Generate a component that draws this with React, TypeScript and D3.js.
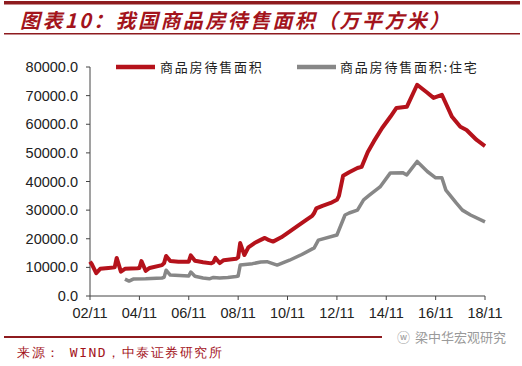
import React from "react";
import * as d3 from "d3";

const titleText = "图表10：我国商品房待售面积（万平方米）";
const sourceText = "来源： WIND，中泰证券研究所";
const watermark = "梁中华宏观研究";
const seriesNames = ["商品房待售面积", "商品房待售面积:住宅"];
const yTicks = [0, 10000, 20000, 30000, 40000, 50000, 60000, 70000, 80000];
const xTickLabels = ["2002-11", "2004-11", "2006-11", "2008-11", "2010-11", "2012-11", "2014-11", "2016-11", "2018-11"];

const totalDates = [
  "2002-11", "2002-12", "2003-02", "2003-04", "2003-08", "2003-11", "2003-12", "2004-02", "2004-04", "2004-10",
  "2004-11", "2004-12", "2005-02", "2005-04", "2005-10", "2005-11", "2005-12", "2006-02", "2006-06", "2006-11",
  "2006-12", "2007-02", "2007-06", "2007-10", "2007-11", "2007-12", "2008-02", "2008-04", "2008-10", "2008-11",
  "2008-12", "2009-02", "2009-04", "2009-07", "2009-10", "2009-12", "2010-02", "2010-04", "2010-08", "2010-12",
  "2011-04", "2011-08", "2011-11", "2011-12", "2012-01", "2012-04", "2012-08", "2012-11", "2012-12", "2013-02",
  "2013-05", "2013-09", "2013-11", "2014-02", "2014-05", "2014-09", "2015-01", "2015-04", "2015-09", "2016-02",
  "2016-07", "2016-10", "2017-02", "2017-07", "2017-11", "2018-02", "2018-07", "2018-11",
];
const totalValues = [
  12000, 11000, 8000, 9500, 9800, 10000, 13300, 8500, 9500, 9700,
  9800, 12200, 8800, 9800, 10800, 11500, 14000, 12200, 12000, 12000,
  14200, 12300, 11800, 11400, 11800, 13300, 11500, 12500, 13000, 13500,
  18500, 14300, 17000, 18500, 19600, 20300, 19500, 19000, 20500, 22500,
  24500, 26500, 28000, 29000, 30600, 31500, 32500, 33600, 35000, 42000,
  43200, 44700, 45100, 50300, 54000, 58700, 62600, 65700, 66100, 73800,
  71000, 69200, 70300, 62600, 59100, 58000, 54500, 52400,
];

const resDates = [
  "2004-04", "2004-06", "2004-08", "2005-02", "2005-10", "2005-11", "2005-12", "2006-02", "2006-11", "2006-12",
  "2007-02", "2007-06", "2007-09", "2007-11", "2008-02", "2008-06", "2008-10", "2008-11", "2008-12", "2009-06",
  "2009-10", "2010-01", "2010-06", "2010-12", "2011-06", "2011-12", "2012-02", "2012-11", "2013-03", "2013-05",
  "2013-09", "2013-12", "2014-03", "2014-08", "2015-01", "2015-07", "2015-09", "2016-02", "2016-07", "2016-11",
  "2017-02", "2017-04", "2017-09", "2017-12", "2018-04", "2018-11",
];
const resValues = [
  5900, 5200, 5900, 6000, 6300, 6500, 9000, 7300, 7000, 8400,
  6900, 6300, 6000, 6500, 6300, 6500, 6800, 7000, 10800, 11300,
  11900, 12000, 10800, 12500, 14500, 16800, 19500, 21300, 28300, 29000,
  30000, 33600, 35300, 38100, 43000, 43100, 42300, 47000, 43500, 41300,
  41300, 37000, 32500, 30000, 28300, 25900,
];

const parse = d3.timeParse("%Y-%m");
const fmtX = d3.timeFormat("%y/%m");

export default function App() {
  const W = 522, H = 366;
  const x = d3.scaleTime().domain([parse("2002-11")!, parse("2018-11")!]).range([90, 485]);
  const y = d3.scaleLinear().domain([0, 80000]).range([296, 67]);
  const line = d3.line<[Date, number]>().x(d => x(d[0])).y(d => y(d[1]));
  const totalPts = totalDates.map((d, i) => [parse(d)!, totalValues[i]] as [Date, number]);
  const resPts = resDates.map((d, i) => [parse(d)!, resValues[i]] as [Date, number]);
  const red = "#B5121B";
  const dark = "#A3141C";
  const axisFont = "'Liberation Sans', Arial, sans-serif";
  const cjk = "'Noto Sans CJK SC', sans-serif";
  return (
    <svg width={W} height={H} style={{ position: "absolute", left: 0, top: 0, background: "#fff" }}>
      <rect x={0} y={0} width={W} height={H} fill="#fff" />
      <rect x={4} y={1} width={516} height={3.5} fill="#8E1B1F" />
      <text x={20} y={28} fill={dark} fontFamily={cjk} fontSize={20} fontWeight="bold" fontStyle="italic" letterSpacing={2.4}>{titleText}</text>
      <rect x={4} y={33} width={516} height={1.5} fill="#8E1B1F" />

      {/* legend */}
      <line x1={116} x2={155} y1={67} y2={67} stroke={red} strokeWidth={4.5} />
      <text x={160} y={72} fontFamily={cjk} fontSize={13} fill="#222" letterSpacing={1.8}>{seriesNames[0]}</text>
      <line x1={297} x2={336} y1={67} y2={67} stroke="#878787" strokeWidth={4.5} />
      <text x={340} y={72} fontFamily={cjk} fontSize={13} fill="#222" letterSpacing={1.8}>{seriesNames[1]}</text>

      {/* axes */}
      <line x1={90} x2={90} y1={67} y2={296} stroke="#444" strokeWidth={1} />
      <line x1={90} x2={485} y1={296} y2={296} stroke="#444" strokeWidth={1} />
      {yTicks.map(t => (
        <g key={t}>
          <line x1={86} x2={90} y1={y(t)} y2={y(t)} stroke="#444" />
          <text x={78} y={y(t) + 5} textAnchor="end" fontFamily={axisFont} fontSize={14.5} fill="#222">{t.toFixed(1)}</text>
        </g>
      ))}
      {xTickLabels.map(s => {
        const d = parse(s)!;
        return (
          <g key={s}>
            <line x1={x(d)} x2={x(d)} y1={296} y2={300} stroke="#444" />
            <text x={x(d)} y={318} textAnchor="middle" fontFamily={axisFont} fontSize={14.5} fill="#222">{fmtX(d)}</text>
          </g>
        );
      })}

      <path d={line(resPts) || ""} fill="none" stroke="#878787" strokeWidth={3.5} strokeLinejoin="round" />
      <path d={line(totalPts) || ""} fill="none" stroke={red} strokeWidth={4} strokeLinejoin="round" />

      {/* footer */}
      <rect x={4} y={336} width={516} height={2} fill="#8E1B1F" />
      <rect x={382} y={330} width={140} height={14} fill="#fff" />
      <text x={397} y={342} fontFamily={cjk} fontSize={13} fill="#9a9a9a">{"ⓦ"}</text>
      <text x={415} y={342} fontFamily={cjk} fontSize={13} fill="#9a9a9a">{watermark}</text>
      <text x={17} y={357} fontFamily="'DejaVu Sans Mono', monospace" fontSize={13} fill={dark} letterSpacing={1.5}>{sourceText}</text>
    </svg>
  );
}
